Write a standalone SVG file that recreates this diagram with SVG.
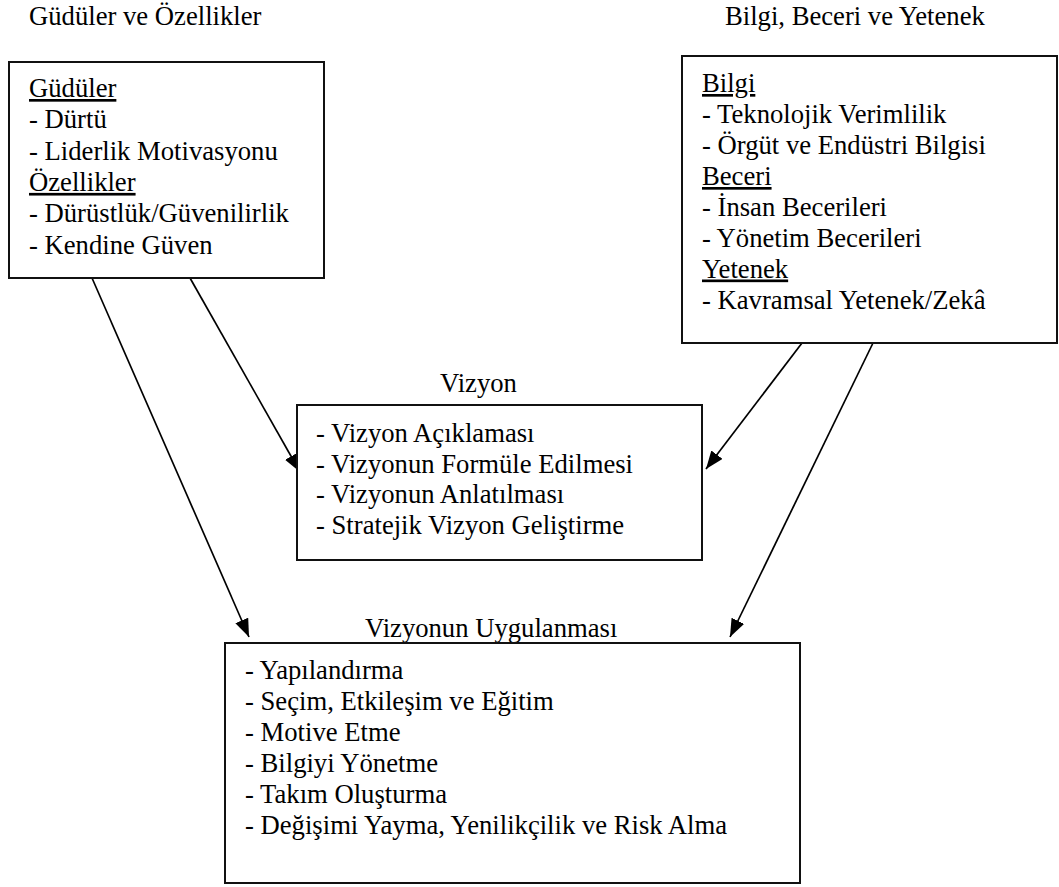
<svg xmlns="http://www.w3.org/2000/svg" width="1059" height="887" viewBox="0 0 1059 887">
<defs>
<style>
text{font-family:'Liberation Serif','DejaVu Serif',serif;font-size:26.67px;fill:#000}
.u{text-decoration:underline}
.box{fill:#fff;stroke:#111;stroke-width:2}
.con{stroke:#000;stroke-width:1.7;fill:none}
</style>
<marker id="ah" markerUnits="userSpaceOnUse" markerWidth="20" markerHeight="16" refX="18" refY="7" orient="auto">
<path d="M0,0 L18,7 L0,14 Z" fill="#000"/>
</marker>
</defs>
<rect width="1059" height="887" fill="#fff"/>
<g id="connectors">
<line class="con" x1="92" y1="278" x2="249" y2="637" marker-end="url(#ah)"/>
<line class="con" x1="190" y1="278" x2="300" y2="472" marker-end="url(#ah)"/>
<line class="con" x1="802" y1="343" x2="706" y2="469" marker-end="url(#ah)"/>
<line class="con" x1="873" y1="343" x2="730" y2="637" marker-end="url(#ah)"/>
</g>
<g id="node-gudu" font-family="Liberation Serif, serif">
<text x="29" y="25">Güdüler ve Özellikler</text>
<rect class="box" x="9" y="62" width="315" height="216"/>
<text class="u" x="29" y="97">Güdüler</text>
<text x="29" y="128.3">- Dürtü</text>
<text x="29" y="159.6">- Liderlik Motivasyonu</text>
<text class="u" x="29" y="190.9">Özellikler</text>
<text x="29" y="222.2">- Dürüstlük/Güvenilirlik</text>
<text x="29" y="253.5">- Kendine Güven</text>
</g>
<g id="node-bilgi">
<text x="725" y="25">Bilgi, Beceri ve Yetenek</text>
<rect class="box" x="682" y="56" width="375" height="287"/>
<text class="u" x="702" y="92">Bilgi</text>
<text x="702" y="123">- Teknolojik Verimlilik</text>
<text x="702" y="154">- Örgüt ve Endüstri Bilgisi</text>
<text class="u" x="702" y="185">Beceri</text>
<text x="702" y="216">- İnsan Becerileri</text>
<text x="702" y="247">- Yönetim Becerileri</text>
<text class="u" x="702" y="277.5">Yetenek</text>
<text x="702" y="308.5">- Kavramsal Yetenek/Zekâ</text>
</g>
<g id="node-vizyon">
<text x="440" y="392">Vizyon</text>
<rect class="box" x="297" y="405" width="405" height="155"/>
<text x="316" y="442">- Vizyon Açıklaması</text>
<text x="316" y="472.5">- Vizyonun Formüle Edilmesi</text>
<text x="316" y="503">- Vizyonun Anlatılması</text>
<text x="316" y="533.5">- Stratejik Vizyon Geliştirme</text>
</g>
<g id="node-uygulama">
<text x="365" y="637">Vizyonun Uygulanması</text>
<rect class="box" x="225" y="643" width="575" height="240"/>
<text x="245" y="678.5">- Yapılandırma</text>
<text x="245" y="709.6">- Seçim, Etkileşim ve Eğitim</text>
<text x="245" y="740.7">- Motive Etme</text>
<text x="245" y="771.8">- Bilgiyi Yönetme</text>
<text x="245" y="802.9">- Takım Oluşturma</text>
<text x="245" y="834">- Değişimi Yayma, Yenilikçilik ve Risk Alma</text>
</g>
</svg>
